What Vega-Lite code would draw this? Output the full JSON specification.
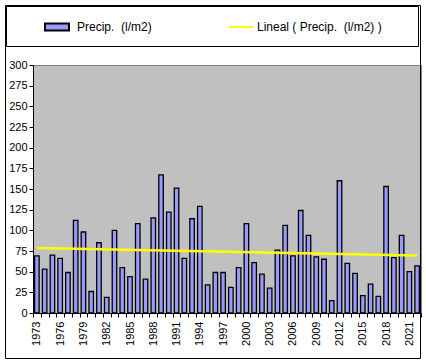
{
  "$schema": "https://vega.github.io/schema/vega-lite/v6.json",
  "autosize": {"type": "none"},
  "width": 388,
  "height": 248,
  "padding": {"left": 33, "top": 65, "right": 5, "bottom": 50},
  "background": "white",
  "data": {"values": [
    {"year": 1973, "value": 69}, {"year": 1974, "value": 53}, {"year": 1975, "value": 70}, {"year": 1976, "value": 66},
    {"year": 1977, "value": 49}, {"year": 1978, "value": 112}, {"year": 1979, "value": 98}, {"year": 1980, "value": 26},
    {"year": 1981, "value": 85}, {"year": 1982, "value": 19}, {"year": 1983, "value": 100}, {"year": 1984, "value": 55},
    {"year": 1985, "value": 44}, {"year": 1986, "value": 108}, {"year": 1987, "value": 41}, {"year": 1988, "value": 115},
    {"year": 1989, "value": 167}, {"year": 1990, "value": 122}, {"year": 1991, "value": 151}, {"year": 1992, "value": 66},
    {"year": 1993, "value": 114}, {"year": 1994, "value": 129}, {"year": 1995, "value": 34}, {"year": 1996, "value": 49},
    {"year": 1997, "value": 49}, {"year": 1998, "value": 31}, {"year": 1999, "value": 55}, {"year": 2000, "value": 108},
    {"year": 2001, "value": 61}, {"year": 2002, "value": 47}, {"year": 2003, "value": 30}, {"year": 2004, "value": 76},
    {"year": 2005, "value": 106}, {"year": 2006, "value": 69}, {"year": 2007, "value": 124}, {"year": 2008, "value": 94},
    {"year": 2009, "value": 68}, {"year": 2010, "value": 65}, {"year": 2011, "value": 15}, {"year": 2012, "value": 160},
    {"year": 2013, "value": 60}, {"year": 2014, "value": 48}, {"year": 2015, "value": 21}, {"year": 2016, "value": 35},
    {"year": 2017, "value": 20}, {"year": 2018, "value": 153}, {"year": 2019, "value": 67}, {"year": 2020, "value": 94},
    {"year": 2021, "value": 50}, {"year": 2022, "value": 57}
  ]},
  "encoding": {
    "x": {
      "field": "year", "type": "ordinal",
      "scale": {"paddingInner": 0, "paddingOuter": 0},
      "axis": {
        "title": null, "labelAngle": 270, "labelAlign": "right", "labelBaseline": "middle",
        "labelExpr": "(datum.value - 1973) % 3 == 0 ? datum.label : ''",
        "labelOverlap": false, "tickBand": "extent", "tickSize": 4, "labelPadding": 4
      }
    },
    "y": {
      "field": "value", "type": "quantitative",
      "scale": {"domain": [0, 300], "nice": false},
      "axis": {"title": null, "values": [0, 25, 50, 75, 100, 125, 150, 175, 200, 225, 250, 275, 300], "tickSize": 4, "labelPadding": 2}
    }
  },
  "layer": [
    {
      "mark": {"type": "bar", "size": 4.5, "stroke": "black", "strokeWidth": 1.3},
      "encoding": {
        "fill": {
          "datum": "Precip.\u00a0 (l/m2)",
          "scale": {"domain": ["Precip.\u00a0 (l/m2)"], "range": ["#9999FF"]},
          "legend": {
            "title": null, "orient": "none", "legendX": 11, "legendY": -51,
            "symbolType": "M-1,-0.3H1V0.3H-1Z", "symbolSize": 576,
            "symbolStrokeColor": "black", "symbolStrokeWidth": 2,
            "labelFontSize": 12, "labelOffset": 7, "labelColor": "black"
          }
        }
      }
    },
    {
      "transform": [{"regression": "value", "on": "year"}],
      "mark": {"type": "line", "strokeWidth": 2.5},
      "encoding": {
        "stroke": {
          "datum": "Lineal ( Precip.\u00a0 (l/m2) )",
          "scale": {"domain": ["Lineal ( Precip.\u00a0 (l/m2) )"], "range": ["#FFFF00"]},
          "legend": {
            "title": null, "orient": "none", "legendX": 195, "legendY": -51,
            "symbolType": "stroke", "symbolSize": 576, "symbolStrokeWidth": 2,
            "labelFontSize": 12, "labelOffset": 3, "labelColor": "black"
          }
        }
      }
    },
    {
      "mark": {"type": "point", "opacity": 0},
      "encoding": {
        "color": {
          "field": "value", "type": "quantitative",
          "scale": {"range": ["rgba(255,255,255,0)", "rgba(255,255,255,0)"]},
          "legend": {
            "title": null, "orient": "none", "legendX": -27.5, "legendY": -59.5, "direction": "horizontal",
            "gradientLength": 415, "gradientThickness": 353, "gradientStrokeColor": "black", "gradientStrokeWidth": 1,
            "labelExpr": "''", "labelOpacity": 0, "padding": 0
          }
        }
      }
    },
    {
      "mark": {"type": "point", "opacity": 0},
      "encoding": {
        "color": {
          "field": "year", "type": "quantitative",
          "scale": {"range": ["rgba(255,255,255,0)", "rgba(255,255,255,0)"]},
          "legend": {
            "title": null, "orient": "none", "legendX": -26.5, "legendY": -58.5, "direction": "horizontal",
            "gradientLength": 412, "gradientThickness": 40, "gradientStrokeColor": "black", "gradientStrokeWidth": 1,
            "labelExpr": "''", "labelOpacity": 0, "padding": 0
          }
        }
      }
    }
  ],
  "resolve": {"scale": {"color": "independent"}},
  "config": {
    "font": "Liberation Sans",
    "view": {"fill": "#C0C0C0", "stroke": "#808080", "strokeWidth": 1},
    "axis": {"grid": false, "domainColor": "black", "tickColor": "black", "labelColor": "black", "labelFontSize": 11, "domainWidth": 1, "tickWidth": 1}
  }
}
